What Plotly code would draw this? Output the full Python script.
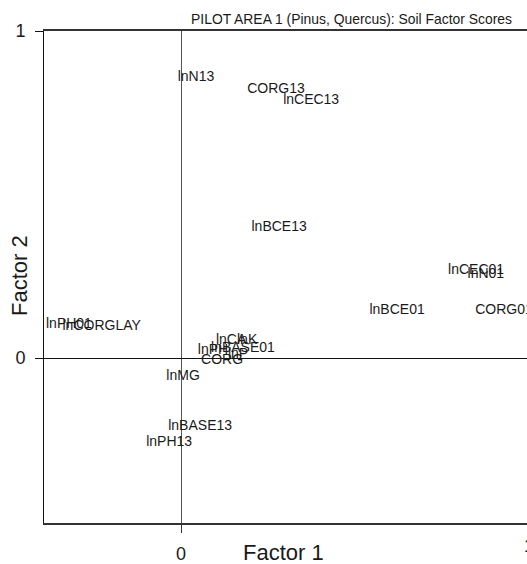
import plotly.graph_objects as go

# Variable labels and their factor scores (Factor 1, Factor 2)
labels = ["lnN13", "CORG13", "lnCEC13", "lnBCE13", "lnCEC01", "lnN01", "lnBCE01",
          "CORG01", "lnPH01", "lnCORGLAY", "lnCA", "lnK", "lnPH", "lnBASE01",
          "CORG", "lnP", "lnMG", "lnBASE13", "lnPH13"]
factor1 = [0.043, 0.273, 0.374, 0.282, 0.848, 0.876, 0.621,
           0.928, -0.322, -0.228, 0.144, 0.190, 0.092, 0.178,
           0.118, 0.164, 0.006, 0.055, -0.034]
factor2 = [0.859, 0.820, 0.786, 0.398, 0.269, 0.254, 0.144,
           0.144, 0.101, 0.095, 0.052, 0.055, 0.024, 0.028,
           -0.009, 0.012, -0.058, -0.208, -0.257]

x_ticks = [0]
y_ticks = [0, 1]

FONT = "Liberation Sans, Arial, sans-serif"
W, H = 527, 564
L, R, T, B = 44, 0, 31, 41

fig = go.Figure()
fig.add_trace(go.Scatter(
    x=factor1, y=factor2, text=labels, mode="text",
    textposition="middle center",
    textfont=dict(family=FONT, size=14, color="#1a1a1a"),
    cliponaxis=False, hoverinfo="skip", showlegend=False,
))

pw = W - L - R
ph = H - T - B

def px_x(p):
    return (p - L) / pw

def px_y(p):
    return (H - B - p) / ph

fig.update_layout(
    width=W, height=H,
    margin=dict(l=L, r=R, t=T, b=B, pad=0),
    paper_bgcolor="white", plot_bgcolor="white",
    font=dict(family=FONT, color="#1a1a1a"),
    title=dict(text="PILOT AREA 1 (Pinus, Quercus): Soil Factor Scores",
               xref="container", yref="container",
               x=512 / W, xanchor="right", y=1 - 19 / H, yanchor="middle",
               font=dict(family=FONT, size=13.9, color="#1a1a1a")),
    xaxis=dict(range=[-0.3937, 0.9943], tickvals=x_ticks, ticktext=["0"],
               showgrid=False, zeroline=True, zerolinecolor="#555555", zerolinewidth=1,
               showline=True, linecolor="#333333", linewidth=1.5, mirror=True,
               ticks="outside", ticklen=8, tickcolor="#333333", tickwidth=1,
               tickfont=dict(family=FONT, size=18, color="#1a1a1a"),
               ticklabelstandoff=6, fixedrange=True),
    yaxis=dict(range=[-0.5046, 1.0], tickvals=y_ticks, ticktext=["0", "1"],
               showgrid=False, zeroline=True, zerolinecolor="#111111", zerolinewidth=1,
               showline=True, linecolor="#111111", linewidth=1, mirror=True,
               ticks="outside", ticklen=8, tickcolor="#111111", tickwidth=1,
               tickfont=dict(family=FONT, size=18, color="#1a1a1a"),
               ticklabelstandoff=6, fixedrange=True),
    annotations=[
        dict(text="Factor 1", xref="paper", yref="paper", x=px_x(283), y=px_y(552),
             xanchor="center", yanchor="middle", showarrow=False,
             font=dict(family=FONT, size=22, color="#1a1a1a")),
        dict(text="Factor 2", xref="paper", yref="paper", x=px_x(19), y=px_y(276),
             xanchor="center", yanchor="middle", showarrow=False, textangle=-90,
             font=dict(family=FONT, size=22, color="#1a1a1a")),
        dict(text="1", xref="paper", yref="paper", x=px_x(529), y=px_y(546),
             xanchor="center", yanchor="middle", showarrow=False,
             font=dict(family=FONT, size=18, color="#1a1a1a")),
    ],
)

fig.write_html("out.html", config={"displayModeBar": False},
               post_script="document.body.style.margin='0px';document.body.style.overflow='hidden';")
